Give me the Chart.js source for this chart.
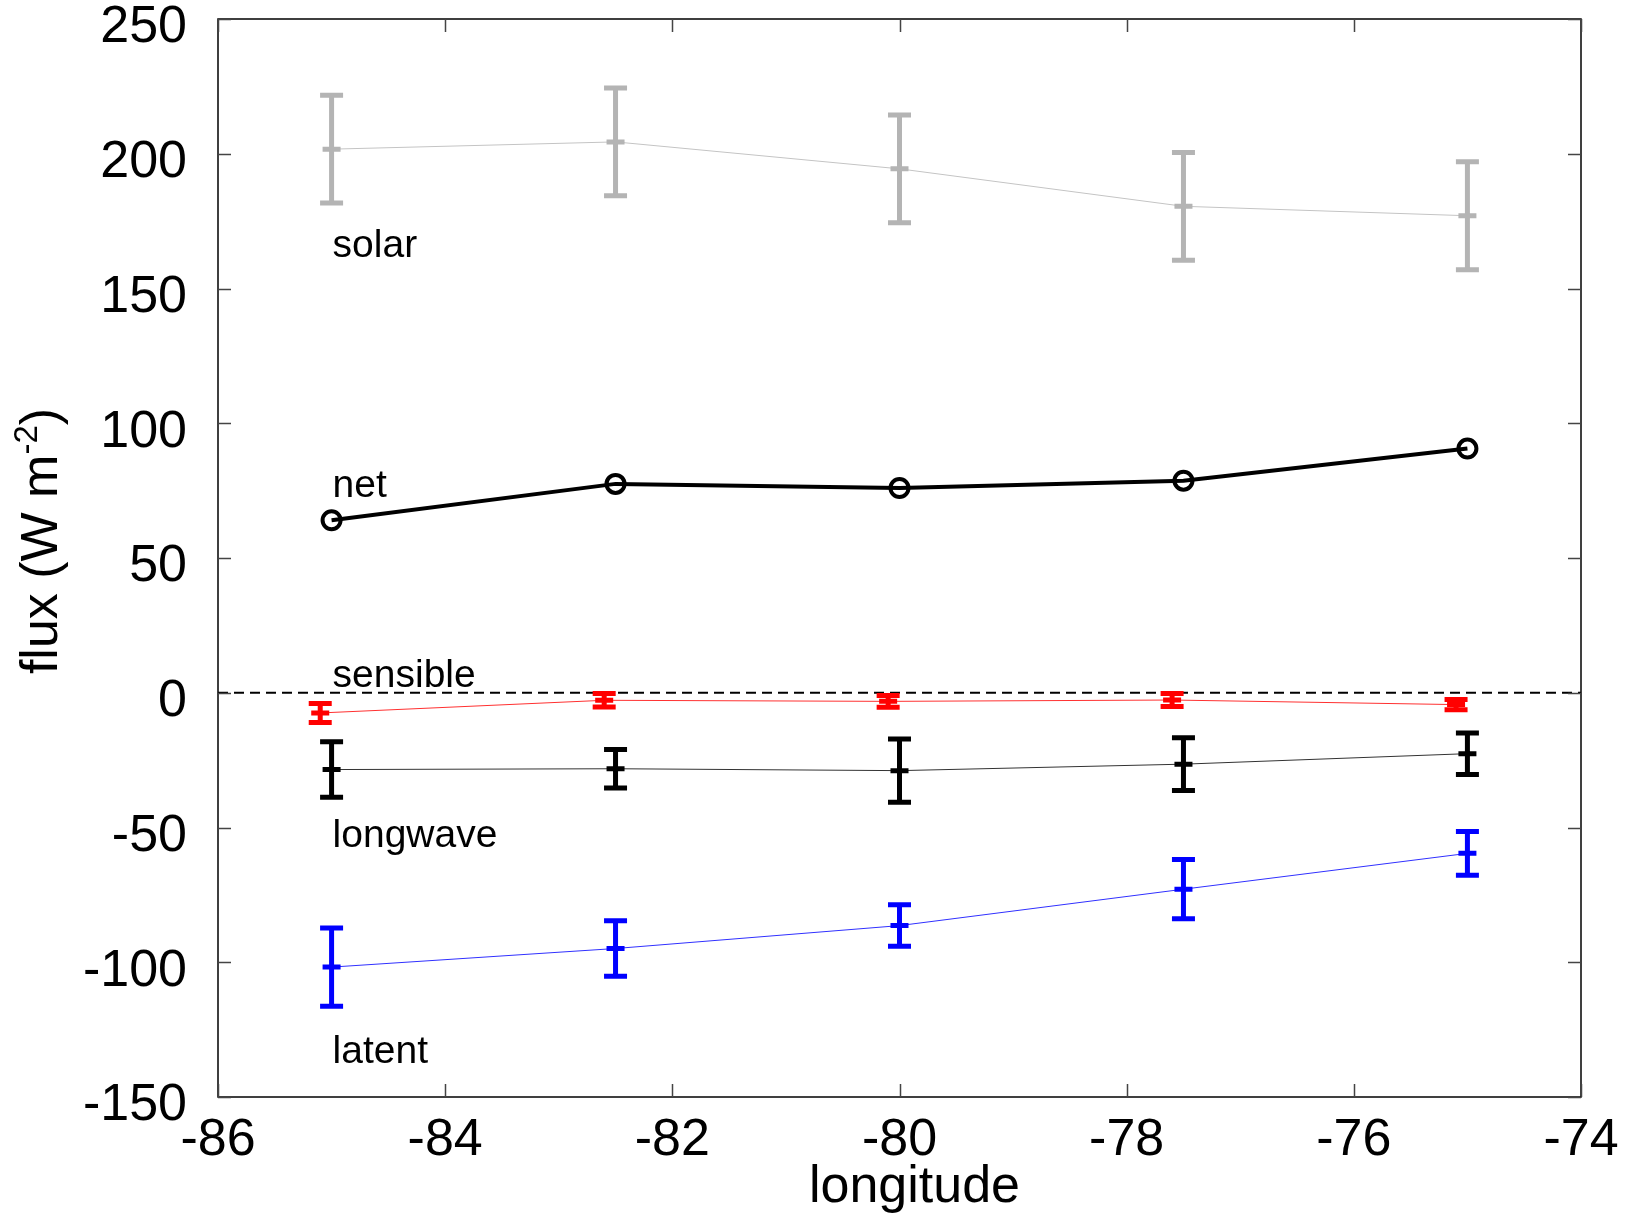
<!DOCTYPE html>
<html>
<head>
<meta charset="utf-8">
<script src="https://cdn.jsdelivr.net/npm/chart.js@4.4.1/dist/chart.umd.min.js"></script>
<style>
  html, body { margin: 0; padding: 0; background: #fff; }
  #wrap { width: 1630px; height: 1218px; }
</style>
</head>
<body>
<div id="wrap"><canvas id="c" width="1630" height="1218"></canvas></div>
<script>
// longitudes of the stations
const lon = [-85, -82.5, -80, -77.5, -75];
// sensible fluxes are plotted a little to the left
const lonSensible = [-85.1, -82.6, -80.1, -77.6, -75.1];

const solar = [201.7, 204.4, 194.4, 180.5, 177.0];
const solarErr = [20, 20, 20, 20, 20];
const net = [64.0, 77.5, 76.0, 78.7, 90.6];
const sensible = [-7.5, -2.8, -3.2, -2.7, -4.4];
const sensibleErr = [3.5, 2.5, 2.2, 2.4, 1.9];
const longwave = [-28.5, -28.2, -28.9, -26.5, -22.6];
const longwaveErr = [10.3, 7.1, 11.7, 9.8, 7.7];
const latent = [-101.8, -94.9, -86.4, -72.9, -59.6];
const latentErr = [14.5, 10.3, 7.7, 11.0, 8.1];

const seriesNames = ['solar', 'net', 'sensible', 'longwave', 'latent'];
const nameAnchorY = [161.6, 72.5, 2.3, -57.1, -137.3];

const xTicks = [-86, -84, -82, -80, -78, -76, -74];
const yTicks = [-150, -100, -50, 0, 50, 100, 150, 200, 250];

const FONT = '"Liberation Sans", Arial, sans-serif';

function pts(xs, ys) {
  return xs.map((x, i) => ({ x: x, y: ys[i] }));
}

// error bars: vertical bar, caps, and a short mark at the mean
const errorBars = [
  { ds: 0, err: solarErr, color: '#b4b4b4' },
  { ds: 2, err: sensibleErr, color: '#ff0000' },
  { ds: 3, err: longwaveErr, color: '#000000' },
  { ds: 4, err: latentErr, color: '#0000ff' }
];

const boxPlugin = {
  id: 'box',
  beforeDatasetsDraw(chart) {
    const ctx = chart.ctx;
    const a = chart.chartArea;
    const ys = chart.scales.y;
    // dashed zero line
    ctx.save();
    ctx.strokeStyle = '#000';
    ctx.lineWidth = 2;
    ctx.setLineDash([10, 6]);
    const y0 = ys.getPixelForValue(0);
    ctx.beginPath();
    ctx.moveTo(a.left, y0);
    ctx.lineTo(a.right, y0);
    ctx.stroke();
    ctx.restore();
  },
  afterDatasetsDraw(chart) {
    const ctx = chart.ctx;
    const a = chart.chartArea;
    const xs = chart.scales.x;
    const ys = chart.scales.y;

    errorBars.forEach(eb => {
      const d = chart.data.datasets[eb.ds].data;
      ctx.save();
      ctx.strokeStyle = eb.color;
      ctx.lineWidth = 5;
      d.forEach((p, i) => {
        const px = xs.getPixelForValue(p.x);
        const pm = ys.getPixelForValue(p.y);
        const pt = ys.getPixelForValue(p.y + eb.err[i]);
        const pb = ys.getPixelForValue(p.y - eb.err[i]);
        ctx.beginPath();
        ctx.moveTo(px, pt);
        ctx.lineTo(px, pb);
        ctx.moveTo(px - 11.5, pt);
        ctx.lineTo(px + 11.5, pt);
        ctx.moveTo(px - 11.5, pb);
        ctx.lineTo(px + 11.5, pb);
        ctx.moveTo(px - 9, pm);
        ctx.lineTo(px + 9, pm);
        ctx.stroke();
      });
      ctx.restore();
    });

    // series names
    ctx.save();
    ctx.fillStyle = '#000';
    ctx.font = '39px ' + FONT;
    ctx.textAlign = 'left';
    ctx.textBaseline = 'alphabetic';
    seriesNames.forEach((n, i) => {
      ctx.fillText(n, xs.getPixelForValue(lon[0]) + 1, ys.getPixelForValue(nameAnchorY[i]));
    });
    ctx.restore();

    // frame and inward ticks on all four sides
    ctx.save();
    ctx.strokeStyle = '#000';
    ctx.lineWidth = 1.5;
    ctx.strokeRect(a.left, a.top, a.right - a.left, a.bottom - a.top);
    ctx.strokeStyle = '#444';
    const tl = 13;
    ctx.beginPath();
    xTicks.forEach(v => {
      const px = Math.round(xs.getPixelForValue(v)) + 0.5;
      ctx.moveTo(px, a.bottom);
      ctx.lineTo(px, a.bottom - tl);
      ctx.moveTo(px, a.top);
      ctx.lineTo(px, a.top + tl);
    });
    yTicks.forEach(v => {
      const py = Math.round(ys.getPixelForValue(v)) + 0.5;
      ctx.moveTo(a.left, py);
      ctx.lineTo(a.left + tl, py);
      ctx.moveTo(a.right, py);
      ctx.lineTo(a.right - tl, py);
    });
    ctx.stroke();
    ctx.restore();

    // axis titles
    ctx.save();
    ctx.fillStyle = '#000';
    const big = '52px ' + FONT;
    const small = '33px ' + FONT;
    ctx.font = big;
    ctx.textAlign = 'center';
    ctx.textBaseline = 'middle';
    ctx.fillText('longitude', (a.left + a.right) / 2 + 15, 1188);

    ctx.translate(43, 541);
    ctx.rotate(-Math.PI / 2);
    ctx.textAlign = 'left';
    const w1 = ctx.measureText('flux (W m').width;
    const w3 = ctx.measureText(')').width;
    ctx.font = small;
    const w2 = ctx.measureText('-2').width;
    let x = -(w1 + w2 + w3) / 2;
    ctx.font = big;
    ctx.fillText('flux (W m', x, 0);
    x += w1;
    ctx.font = small;
    ctx.fillText('-2', x, -15);
    x += w2;
    ctx.font = big;
    ctx.fillText(')', x, 0);
    ctx.restore();
  }
};

new Chart(document.getElementById('c'), {
  type: 'line',
  data: {
    datasets: [
      {
        label: 'solar',
        data: pts(lon, solar),
        borderColor: '#c4c4c4',
        borderWidth: 1,
        pointRadius: 0
      },
      {
        label: 'net',
        data: pts(lon, net),
        borderColor: '#000',
        borderWidth: 4,
        pointRadius: 9,
        pointBorderWidth: 4,
        pointBorderColor: '#000',
        pointBackgroundColor: 'rgba(0,0,0,0)'
      },
      {
        label: 'sensible',
        data: pts(lonSensible, sensible),
        borderColor: '#ff3030',
        borderWidth: 1,
        pointRadius: 0
      },
      {
        label: 'longwave',
        data: pts(lon, longwave),
        borderColor: '#333',
        borderWidth: 1,
        pointRadius: 0
      },
      {
        label: 'latent',
        data: pts(lon, latent),
        borderColor: '#3030ff',
        borderWidth: 1,
        pointRadius: 0
      }
    ]
  },
  options: {
    responsive: false,
    animation: false,
    events: [],
    layout: { padding: { left: 0, top: 19, right: 49, bottom: 0 } },
    plugins: {
      legend: { display: false },
      tooltip: { enabled: false }
    },
    scales: {
      x: {
        type: 'linear',
        min: -86,
        max: -74,
        afterFit: s => { s.height = 121; s.paddingLeft = 0; s.paddingRight = 0; },
        afterBuildTicks: s => { s.ticks = xTicks.map(v => ({ value: v })); },
        grid: { display: false, drawTicks: false },
        border: { display: false },
        ticks: {
          color: '#000',
          padding: 12,
          maxRotation: 0,
          font: { family: FONT, size: 52 }
        }
      },
      y: {
        min: -150,
        max: 250,
        afterFit: s => { s.width = 218; s.paddingTop = 0; s.paddingBottom = 0; },
        afterBuildTicks: s => { s.ticks = yTicks.map(v => ({ value: v })); },
        grid: { display: false, drawTicks: false },
        border: { display: false },
        ticks: {
          color: '#000',
          padding: 31,
          labelOffset: 9,
          font: { family: FONT, size: 52 }
        }
      }
    }
  },
  plugins: [boxPlugin]
});
</script>
</body>
</html>
